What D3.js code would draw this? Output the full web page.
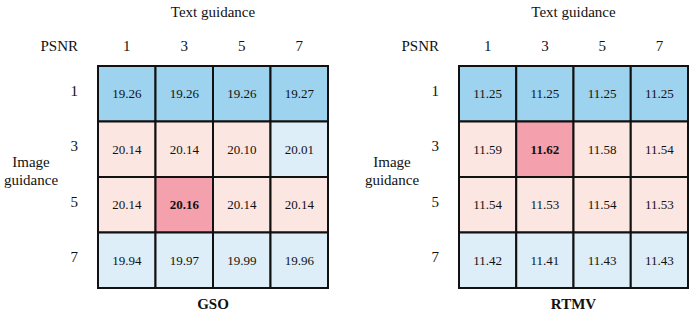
<!DOCTYPE html>
<html>
<head>
<meta charset="utf-8">
<script src="https://cdn.jsdelivr.net/npm/d3@7"></script>
<style>
  body { margin: 0; background: #fff; }
  svg { display: block; }
</style>
</head>
<body>
<svg id="chart" width="694" height="313" font-family="'Liberation Serif', 'Times New Roman', Times, serif"></svg>
<script>
// guidance scales on both axes
const textLevels = ["1", "3", "5", "7"]
const imageLevels = ["1", "3", "5", "7"]

// PSNR, rows = image guidance, cols = text guidance
const gsoValues = [
  [19.26, 19.26, 19.26, 19.27],
  [20.14, 20.14, 20.10, 20.01],
  [20.14, 20.16, 20.14, 20.14],
  [19.94, 19.97, 19.99, 19.96]
]
const rtmvValues = [
  [11.25, 11.25, 11.25, 11.25],
  [11.59, 11.62, 11.58, 11.54],
  [11.54, 11.53, 11.54, 11.53],
  [11.42, 11.41, 11.43, 11.43]
]

// colour breaks per dataset
const gsoBreaks = [19.5, 20.05, 20.16]
const rtmvBreaks = [11.3, 11.5, 11.62]
const cellColors = ["#9dd3ee", "#ddeef9", "#fce6e2", "#f4a1ad"]

const panels = [
  { name: "GSO", values: gsoValues, breaks: gsoBreaks, left: 98, right: 328 },
  { name: "RTMV", values: rtmvValues, breaks: rtmvBreaks, left: 459, right: 688 }
]

const svg = d3.select("#chart")
const gridTop = 66, gridBottom = 288

panels.forEach(p => {
  const g = svg.append("g").attr("fill", "#111")
  const x = d3.scaleBand().domain(textLevels).range([p.left, p.right])
  const y = d3.scaleBand().domain(imageLevels).range([gridTop, gridBottom])
  const color = d3.scaleThreshold().domain(p.breaks).range(cellColors)
  const maxVal = d3.max(p.values.flat())

  const cells = []
  p.values.forEach((row, i) => row.forEach((v, j) => {
    cells.push({ row: imageLevels[i], col: textLevels[j], v: v })
  }))

  g.selectAll("rect.cell")
    .data(cells)
    .enter()
    .append("rect")
      .attr("class", "cell")
      .attr("x", d => x(d.col))
      .attr("y", d => y(d.row))
      .attr("width", x.bandwidth())
      .attr("height", y.bandwidth())
      .attr("fill", d => color(d.v))
      .attr("stroke", "#111")
      .attr("stroke-width", 2)

  g.selectAll("text.val")
    .data(cells)
    .enter()
    .append("text")
      .attr("class", "val")
      .attr("x", d => x(d.col) + x.bandwidth() / 2)
      .attr("y", d => y(d.row) + y.bandwidth() / 2 + 4.5)
      .attr("text-anchor", "middle")
      .attr("font-size", 13)
      .attr("font-weight", d => d.v === maxVal ? "bold" : "normal")
      .text(d => d.v.toFixed(2))

  // column labels
  g.selectAll("text.col")
    .data(textLevels)
    .enter()
    .append("text")
      .attr("class", "col")
      .attr("x", d => x(d) + x.bandwidth() / 2)
      .attr("y", 51)
      .attr("text-anchor", "middle")
      .attr("font-size", 15)
      .text(d => d)

  // row labels
  g.selectAll("text.row")
    .data(imageLevels)
    .enter()
    .append("text")
      .attr("class", "row")
      .attr("x", p.left - 20)
      .attr("y", d => y(d) + y.bandwidth() / 2 + 2)
      .attr("text-anchor", "end")
      .attr("font-size", 15)
      .text(d => d)

  g.append("text")
    .attr("x", p.left - 20)
    .attr("y", 51)
    .attr("text-anchor", "end")
    .attr("font-size", 15)
    .text("PSNR")

  g.append("text")
    .attr("x", (p.left + p.right) / 2)
    .attr("y", 17)
    .attr("text-anchor", "middle")
    .attr("font-size", 15)
    .text("Text guidance")

  const ig = g.append("text")
    .attr("text-anchor", "middle")
    .attr("font-size", 15)
  ig.append("tspan").attr("x", p.left - 67).attr("y", 167).text("Image")
  ig.append("tspan").attr("x", p.left - 67).attr("y", 185).text("guidance")

  g.append("text")
    .attr("x", (p.left + p.right) / 2)
    .attr("y", 309)
    .attr("text-anchor", "middle")
    .attr("font-size", 15)
    .attr("font-weight", "bold")
    .text(p.name)
})
</script>
</body>
</html>
